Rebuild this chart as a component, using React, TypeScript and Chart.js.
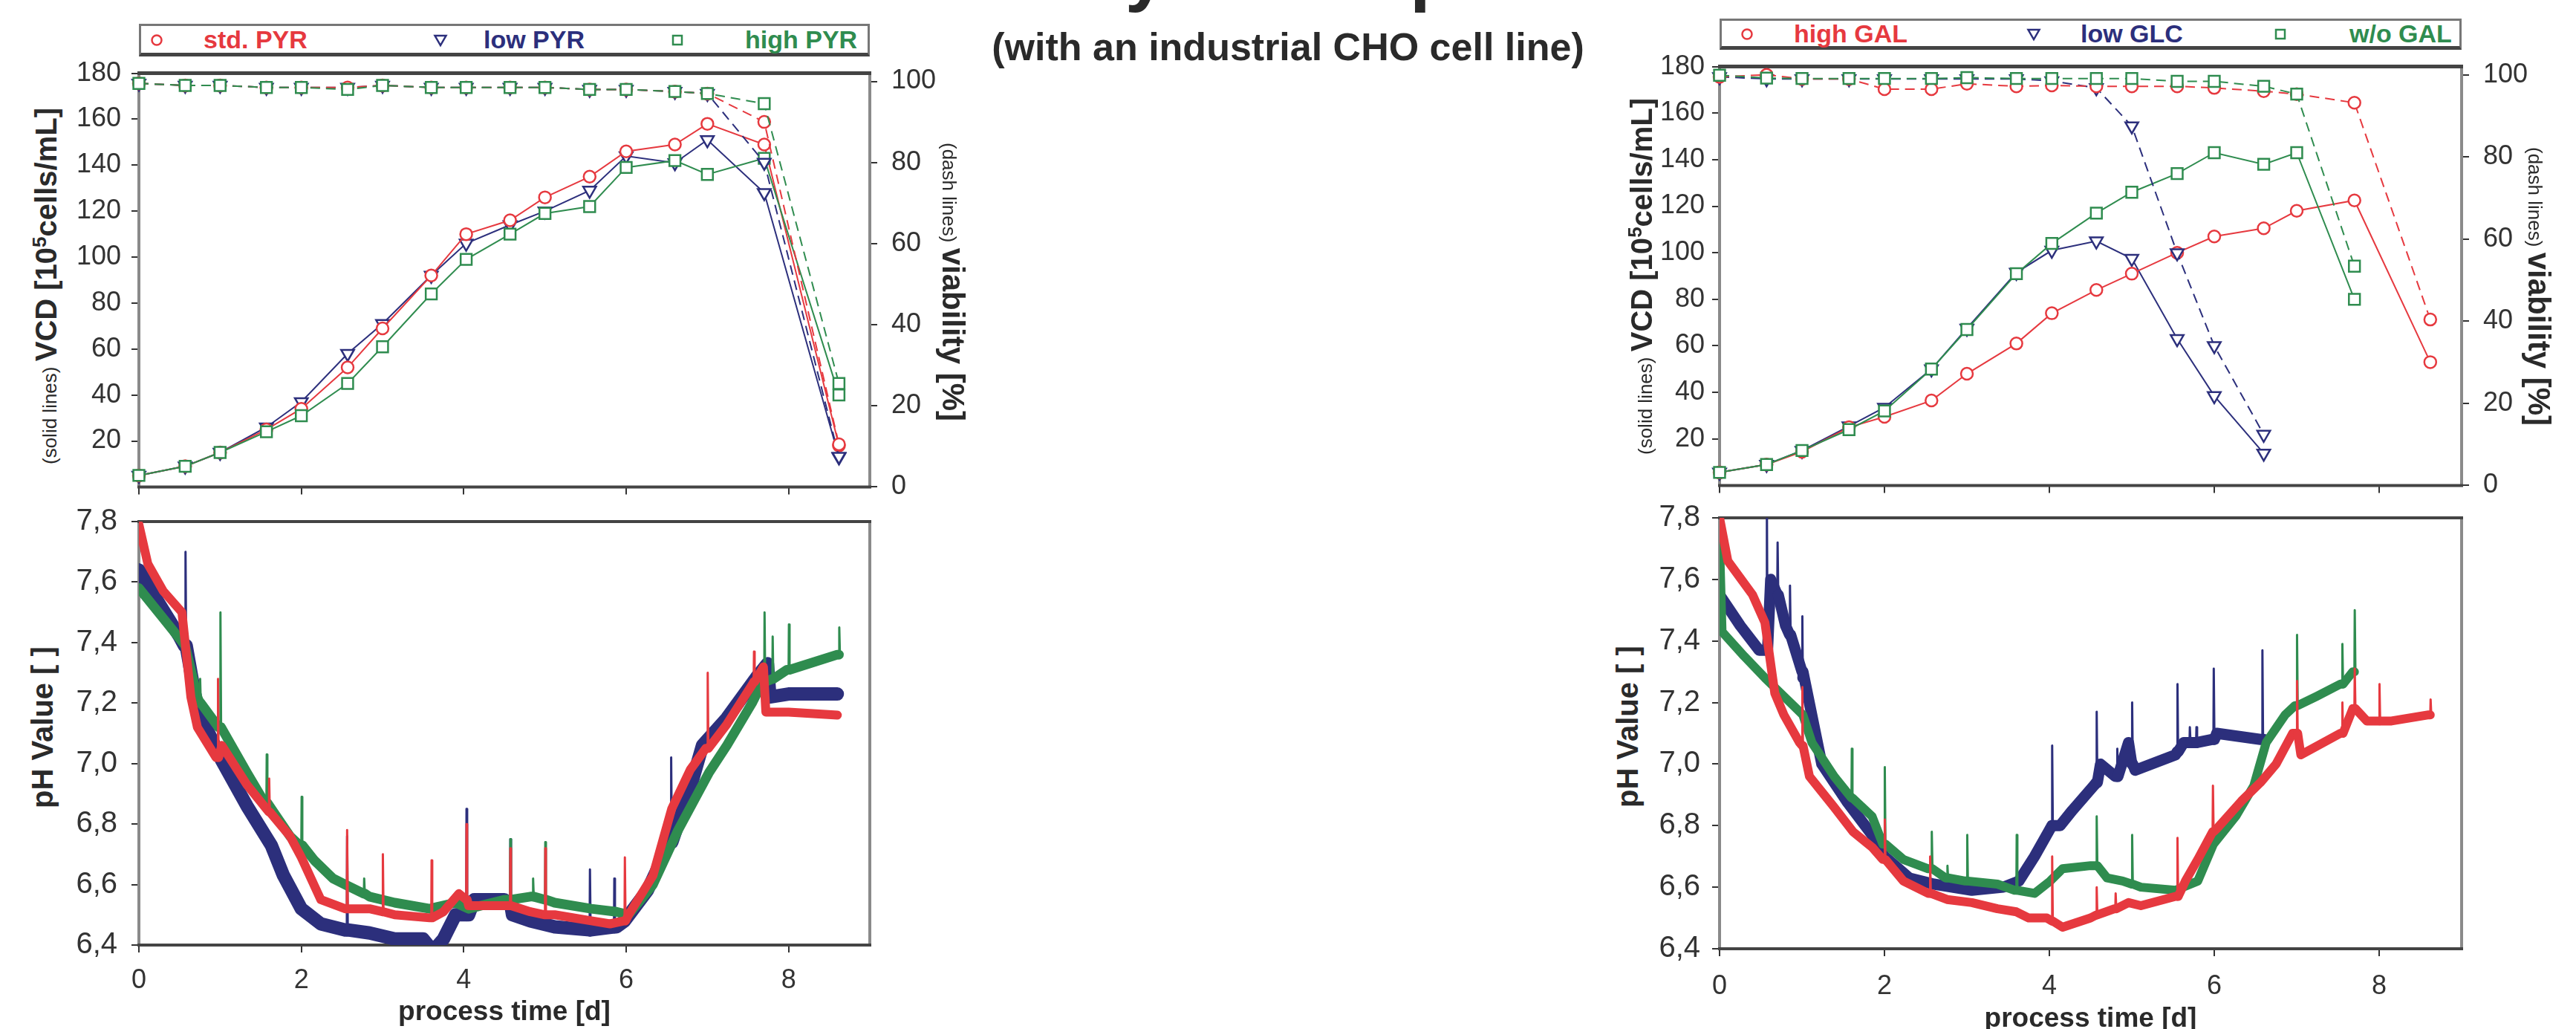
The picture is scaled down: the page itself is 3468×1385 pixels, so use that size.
import React, { useEffect, useRef } from 'react';
import { Chart, registerables } from 'chart.js';

Chart.register(...registerables);

const SANS = "'Liberation Sans', Arial, Helvetica, sans-serif";
const INK = '#2a2a2a';
const RED = '#e6393f';
const BLUE = '#2c2f7c';
const GREEN = '#2f8c4f';

// ---------- texts ----------
const TITLE = 'Sensitivity of the pH control';
const SUBTITLE = '(with an industrial CHO cell line)';
const LEGEND_PYR = ['std. PYR', 'low PYR', 'high PYR'];
const LEGEND_GAL = ['high GAL', 'low GLC', 'w/o GAL'];

// ---------- ticks ----------
const X_TICKS = [0, 2, 4, 6, 8];
const VCD_TICKS = [20, 40, 60, 80, 100, 120, 140, 160, 180];
const VIA_TICKS = [0, 20, 40, 60, 80, 100];
const PH_TICKS = [6.4, 6.6, 6.8, 7.0, 7.2, 7.4, 7.6, 7.8];

// ---------- sampling days ----------
const DAYS = [0, 0.57, 1.0, 1.57, 2.0, 2.57, 3.0, 3.6, 4.03, 4.57, 5.0, 5.55, 6.0, 6.6, 7.0, 7.7, 8.62];

// ---------- left: pyruvate runs ----------
const VCD_STD_PYR = [5, 9, 15, 25, 34, 52, 69, 92, 110, 116, 126, 135, 146, 149, 158, 149, 18];
const VCD_LOW_PYR = [5, 9, 15, 26, 37, 58, 71, 92, 106, 114, 120, 129, 144, 141, 151, 128, 13];
const VCD_HIGH_PYR = [5, 9, 15, 24, 31, 45, 61, 84, 99, 110, 119, 122, 139, 142, 136, 143, 40];
const VIA_STD_PYR = [99.5, 99, 99, 98.5, 98.5, 98.5, 99, 98.5, 98.5, 98.5, 98.5, 98, 98, 97.5, 97, 90, 10.5];
const VIA_LOW_PYR = [99.5, 99, 99, 98.5, 98.5, 98.5, 99, 98.5, 98.5, 98.5, 98.5, 98, 98, 97.5, 97, 80, 7.5];
const VIA_HIGH_PYR = [99.5, 99, 99, 98.5, 98.5, 98, 99, 98.5, 98.5, 98.5, 98.5, 98, 98, 97.5, 97, 94.5, 25.5];

// ---------- right: galactose / glucose runs ----------
const VCD_HIGH_GAL = [5.6, 9, 14.5, 25, 29.5, 36.5, 48, 61, 74, 84, 91, 100, 107, 110.5, 118, 122.5, 53];
const VCD_LOW_GLC = [5.6, 9, 15, 25.5, 33.5, 50, 67.5, 91.5, 101, 105, 97.5, 63, 38.5, 13.8];
const VCD_WO_GAL = [5.6, 9, 15, 24, 32, 50, 67, 91, 104, 117, 126, 134, 143, 138, 143, 80];
const VIA_HIGH_GAL = [99.5, 100, 99, 99, 96.5, 96.5, 97.8, 97.2, 97.4, 97.2, 97.2, 97.2, 96.8, 96, 95.3, 93.2, 40.4];
const VIA_LOW_GLC = [99.5, 99, 99, 99, 99, 99, 99, 99, 98.5, 96.8, 87.5, 56.6, 34, 12.4];
const VIA_WO_GAL = [99.9, 99.2, 99.1, 99.1, 99.1, 99.1, 99.3, 99.1, 99.1, 99.1, 99.1, 98.4, 98.4, 97.2, 95.3, 53.4];

// ---------- pH traces: [day, pH] and spikes [day, base pH, peak pH] ----------
const PH_STD_PYR = [
  [0, 7.79], [0.11, 7.66], [0.3, 7.57], [0.53, 7.5], [0.64, 7.22], [0.72, 7.12], [0.95, 7.02], [1.02, 7.06],
  [1.33, 6.93], [1.57, 6.85], [1.86, 6.76], [2.0, 6.69], [2.24, 6.55], [2.54, 6.52], [2.84, 6.52], [3.15, 6.5],
  [3.58, 6.49], [3.75, 6.51], [3.94, 6.57], [4.06, 6.53], [4.5, 6.53], [4.82, 6.51], [5.12, 6.5], [5.57, 6.48],
  [5.8, 6.47], [6.03, 6.5], [6.33, 6.63], [6.56, 6.85], [6.79, 6.98], [6.98, 7.05], [7.24, 7.13], [7.55, 7.26],
  [7.69, 7.32], [7.72, 7.17], [8.0, 7.17], [8.6, 7.16],
];
const SPK_STD_PYR = [
  [0.97, 7.02, 7.28], [1.6, 6.84, 6.95], [2.56, 6.52, 6.78], [3.0, 6.51, 6.7], [3.6, 6.49, 6.68],
  [4.03, 6.55, 6.8], [4.57, 6.53, 6.72], [5.0, 6.5, 6.72], [5.98, 6.48, 6.69], [7.0, 7.05, 7.3], [7.57, 7.27, 7.37],
];
const PH_LOW_PYR = [
  [0, 7.64], [0.2, 7.55], [0.5, 7.42], [0.56, 7.39], [0.72, 7.18], [1.02, 7.01], [1.33, 6.86], [1.63, 6.73],
  [1.78, 6.63], [2.0, 6.52], [2.24, 6.47], [2.54, 6.45], [2.84, 6.44], [3.15, 6.42], [3.5, 6.42], [3.62, 6.38],
  [3.75, 6.42], [3.9, 6.5], [4.06, 6.5], [4.13, 6.55], [4.5, 6.55], [4.6, 6.5], [4.82, 6.48], [5.12, 6.46],
  [5.57, 6.45], [5.88, 6.46], [5.98, 6.48], [6.26, 6.58], [6.54, 6.74], [6.79, 6.92], [6.94, 7.06], [7.24, 7.15],
  [7.62, 7.29], [7.74, 7.33], [7.77, 7.22], [8.0, 7.23], [8.6, 7.23],
];
const SPK_LOW_PYR = [
  [0.57, 7.39, 7.7], [2.56, 6.45, 6.76], [4.03, 6.5, 6.85], [4.57, 6.53, 6.75], [5.55, 6.45, 6.65],
  [5.85, 6.46, 6.62], [6.55, 6.74, 7.02],
];
const PH_HIGH_PYR = [
  [0, 7.58], [0.3, 7.48], [0.57, 7.39], [0.72, 7.22], [0.98, 7.12], [1.33, 6.97], [1.55, 6.87], [1.86, 6.76],
  [1.98, 6.73], [2.16, 6.68], [2.39, 6.62], [2.54, 6.6], [2.84, 6.56], [3.15, 6.54], [3.58, 6.52], [3.9, 6.54],
  [4.06, 6.52], [4.5, 6.55], [4.82, 6.56], [5.12, 6.54], [5.57, 6.52], [5.88, 6.51], [6.03, 6.5], [6.33, 6.6],
  [6.64, 6.78], [6.86, 6.89], [7.02, 6.97], [7.24, 7.06], [7.55, 7.2], [7.68, 7.27], [7.98, 7.31], [8.6, 7.36],
];
const SPK_HIGH_PYR = [
  [0.75, 7.2, 7.28], [1.0, 7.12, 7.5], [1.57, 6.87, 7.03], [2.0, 6.73, 6.89], [2.77, 6.57, 6.62],
  [4.57, 6.55, 6.75], [4.85, 6.56, 6.62], [5.0, 6.55, 6.74], [7.7, 7.27, 7.5], [7.8, 7.28, 7.42],
  [8.0, 7.31, 7.46], [8.62, 7.36, 7.45],
];

const PH_HIGH_GAL = [
  [0, 7.8], [0.1, 7.66], [0.4, 7.55], [0.55, 7.46], [0.67, 7.23], [0.78, 7.16], [0.97, 7.07], [1.09, 6.96],
  [1.39, 6.86], [1.62, 6.78], [1.85, 6.73], [1.98, 6.69], [2.23, 6.62], [2.53, 6.58], [2.76, 6.56], [3.06, 6.55],
  [3.37, 6.53], [3.6, 6.52], [3.75, 6.5], [3.97, 6.5], [4.16, 6.47], [4.5, 6.5], [4.79, 6.53], [4.96, 6.55],
  [5.11, 6.54], [5.53, 6.57], [5.65, 6.62], [5.8, 6.69], [6.03, 6.79], [6.33, 6.88], [6.56, 6.94], [6.75, 7.0],
  [6.95, 7.1], [7.05, 7.03], [7.53, 7.1], [7.68, 7.18], [7.85, 7.14], [8.15, 7.14], [8.6, 7.16],
];
const SPK_HIGH_GAL = [
  [1.0, 7.06, 7.25], [2.0, 6.69, 6.82], [2.55, 6.58, 6.7], [4.03, 6.49, 6.7], [4.57, 6.51, 6.6],
  [4.8, 6.53, 6.58], [5.55, 6.57, 6.76], [5.98, 6.78, 6.93], [7.0, 7.1, 7.27], [7.55, 7.1, 7.2],
  [7.7, 7.18, 7.31], [8.0, 7.14, 7.26], [8.62, 7.16, 7.21],
];
const PH_LOW_GLC = [
  [0, 7.55], [0.25, 7.45], [0.48, 7.37], [0.62, 7.6], [0.8, 7.45], [1.01, 7.28], [1.24, 7.0], [1.54, 6.88],
  [1.85, 6.77], [2.0, 6.7], [2.3, 6.63], [2.6, 6.61], [3.06, 6.59], [3.44, 6.6], [3.63, 6.62], [3.82, 6.7],
  [4.01, 6.79], [4.13, 6.8], [4.28, 6.85], [4.54, 6.93], [4.62, 7.0], [4.8, 6.96], [4.96, 7.07], [5.04, 6.98],
  [5.53, 7.03], [5.63, 7.07], [5.97, 7.08], [6.03, 7.1], [6.56, 7.08], [6.6, 7.08],
];
const SPK_LOW_GLC = [
  [0.57, 7.37, 7.85], [0.7, 7.55, 7.72], [0.85, 7.42, 7.58], [1.0, 7.3, 7.48], [4.03, 6.8, 7.06],
  [4.57, 6.94, 7.17], [4.82, 6.96, 7.05], [5.0, 7.0, 7.2], [5.55, 7.04, 7.26], [5.7, 7.07, 7.12],
  [5.78, 7.07, 7.12], [5.99, 7.08, 7.31], [6.58, 7.08, 7.37],
];
const PH_WO_GAL = [
  [0, 7.72], [0.03, 7.43], [0.3, 7.35], [0.55, 7.28], [0.78, 7.22], [1.01, 7.16], [1.12, 7.07], [1.39, 6.96],
  [1.6, 6.89], [1.85, 6.83], [1.98, 6.74], [2.23, 6.69], [2.53, 6.66], [2.74, 6.63], [2.98, 6.62], [3.37, 6.61],
  [3.58, 6.59], [3.82, 6.58], [4.01, 6.62], [4.16, 6.66], [4.5, 6.67], [4.7, 6.63], [4.89, 6.62], [5.11, 6.6],
  [5.53, 6.59], [5.8, 6.62], [5.99, 6.74], [6.26, 6.83], [6.48, 6.93], [6.63, 7.07], [6.86, 7.16], [6.98, 7.19],
  [7.24, 7.22], [7.53, 7.26], [7.68, 7.3],
];
const SPK_WO_GAL = [
  [1.6, 6.89, 7.05], [2.0, 6.74, 6.99], [2.57, 6.66, 6.78], [2.76, 6.63, 6.67], [3.0, 6.62, 6.77],
  [3.6, 6.59, 6.77], [4.57, 6.67, 6.83], [5.0, 6.61, 6.77], [7.0, 7.19, 7.42], [7.55, 7.26, 7.39],
  [7.7, 7.3, 7.5],
];

// ---------- helpers ----------
type Geo = { l: number; t: number; r: number; b: number };

function pts(days: number[], vals: number[]) {
  return vals.map((y, i) => ({ x: days[i], y }));
}

function phPoints(base: number[][], spikes: number[][]) {
  const out: { x: number; y: number; s: number }[] = base.map(([x, y]) => ({ x, y, s: 0 }));
  for (const [x, b, p] of spikes) {
    out.push({ x, y: b, s: 0 }, { x: x + 0.004, y: p, s: 1 }, { x: x + 0.012, y: b, s: 0 });
  }
  out.sort((a, c) => a.x - c.x);
  return out;
}

const framePlugin = {
  id: 'frame',
  beforeDatasetsDraw(chart: any, _a: any, o: any) {
    const { ctx, chartArea: a } = chart;
    const line = (x1: number, y1: number, x2: number, y2: number, c: string, w: number) => {
      ctx.beginPath();
      ctx.strokeStyle = c;
      ctx.lineWidth = w;
      ctx.moveTo(x1, y1);
      ctx.lineTo(x2, y2);
      ctx.stroke();
    };
    ctx.save();
    line(a.left, a.top, a.left, a.bottom, o.side, 4);
    line(a.right, a.top, a.right, a.bottom, o.side, 4);
    line(a.left - 2, a.top, a.right + 2, a.top, o.tb, o.topW);
    line(a.left - 2, a.bottom, a.right + 2, a.bottom, o.tb, 4);
    ctx.restore();
  },
};

function tickGrid() {
  return { display: true, drawOnChartArea: false, drawTicks: true, tickLength: 10, color: '#333', lineWidth: 2 };
}

type Shape = 'circle' | 'triangle' | 'rect';
function marker(color: string, shape: Shape) {
  return {
    pointStyle: shape,
    pointRadius: shape === 'circle' ? 8 : shape === 'triangle' ? 10 : 10.5,
    pointRotation: shape === 'triangle' ? 180 : 0,
    pointBorderWidth: 2.5,
    pointBorderColor: color,
    pointBackgroundColor: '#ffffff',
  };
}

type TopSeries = { days: number[]; vcd: number[]; via: number[]; color: string; shape: Shape };

function topConfig(series: TopSeries[], yPad: number, yrPad: number) {
  const datasets: any[] = [];
  for (const s of series) {
    datasets.push({
      data: pts(s.days, s.via), yAxisID: 'ya', borderColor: s.color, borderWidth: 2,
      borderDash: [13, 8], tension: 0, clip: false, ...marker(s.color, s.shape),
    });
  }
  for (const s of series) {
    datasets.push({
      data: pts(s.days, s.vcd), yAxisID: 'yv', borderColor: s.color, borderWidth: 2,
      tension: 0, clip: false, ...marker(s.color, s.shape),
    });
  }
  return {
    type: 'line',
    data: { datasets },
    options: {
      animation: false, responsive: false, devicePixelRatio: 1, events: [],
      layout: { padding: { top: 30, bottom: 10, left: 0, right: 0 } },
      plugins: { legend: { display: false }, tooltip: { enabled: false }, frame: { side: '#8a8a8a', tb: '#444', topW: 5 } },
      scales: {
        x: {
          type: 'linear', min: 0, max: 9,
          afterBuildTicks: (sc: any) => { sc.ticks = X_TICKS.map((v) => ({ value: v })); },
          ticks: { display: false }, grid: tickGrid(), border: { display: false },
          afterFit: (sc: any) => { sc.height = 16; },
        },
        yv: {
          type: 'linear', position: 'left', min: 0, max: 180,
          afterBuildTicks: (sc: any) => { sc.ticks = VCD_TICKS.map((v) => ({ value: v })); },
          ticks: { font: { family: SANS, size: 36 }, color: '#333', padding: yPad },
          grid: tickGrid(), border: { display: false },
          afterFit: (sc: any) => { sc.width = 100; },
        },
        ya: {
          type: 'linear', position: 'right', min: 0, max: 102,
          afterBuildTicks: (sc: any) => { sc.ticks = VIA_TICKS.map((v) => ({ value: v })); },
          ticks: { font: { family: SANS, size: 36 }, color: '#333', padding: yrPad },
          grid: tickGrid(), border: { display: false },
          afterFit: (sc: any) => { sc.width = 110; },
        },
      },
    },
    plugins: [framePlugin],
  };
}

type PhSeries = { base: number[][]; spikes: number[][]; color: string; band: number };

function phConfig(series: PhSeries[], xH: number, xPad: number, yPad: number) {
  const datasets = series.map((s) => {
    const data = phPoints(s.base, s.spikes);
    return {
      data, borderColor: s.color, borderWidth: s.band, pointRadius: 0, tension: 0,
      borderJoinStyle: 'round', borderCapStyle: 'round',
      segment: {
        borderWidth: (c: any) => (data[c.p0DataIndex].s || data[c.p1DataIndex].s ? 3 : s.band),
      },
    };
  });
  return {
    type: 'line',
    data: { datasets },
    options: {
      animation: false, responsive: false, devicePixelRatio: 1, events: [],
      layout: { padding: { top: 30, bottom: 0, left: 0, right: 30 } },
      plugins: { legend: { display: false }, tooltip: { enabled: false }, frame: { side: '#8a8a8a', tb: '#444', topW: 4 } },
      scales: {
        x: {
          type: 'linear', min: 0, max: 9,
          afterBuildTicks: (sc: any) => { sc.ticks = X_TICKS.map((v) => ({ value: v })); },
          ticks: { font: { family: SANS, size: 36 }, color: '#333', padding: xPad, maxRotation: 0 },
          grid: tickGrid(), border: { display: false },
          title: { display: true, text: 'process time [d]', font: { family: SANS, size: 37, weight: 'bold' }, color: INK, padding: { top: 0, bottom: 4 } },
          afterFit: (sc: any) => { sc.height = xH; },
        },
        y: {
          type: 'linear', position: 'left', min: 6.4, max: 7.8,
          afterBuildTicks: (sc: any) => { sc.ticks = PH_TICKS.map((v) => ({ value: v })); },
          ticks: {
            font: { family: SANS, size: 40 }, color: '#333', padding: yPad,
            callback: (v: any) => Number(v).toFixed(1).replace('.', ','),
          },
          grid: tickGrid(), border: { display: false },
          afterFit: (sc: any) => { sc.width = 100; },
        },
      },
    },
    plugins: [framePlugin],
  };
}

function ChartCanvas({ left, top, width, height, make }: { left: number; top: number; width: number; height: number; make: () => any }) {
  const ref = useRef<HTMLCanvasElement>(null);
  useEffect(() => {
    const chart = new Chart(ref.current as HTMLCanvasElement, make());
    return () => chart.destroy();
  }, []);
  return (
    <canvas ref={ref} width={width} height={height}
      style={{ position: 'absolute', left, top, width, height }} />
  );
}

function VLabel({ bx, y, dir, small, children }: { bx: number; y: number; dir: number; small?: string; children: React.ReactNode }) {
  const B = 38;
  const pos = dir < 0
    ? { left: bx - B, top: y, transform: 'rotate(-90deg)' }
    : { left: bx + B, top: y, transform: 'rotate(90deg)' };
  return (
    <div style={{
      position: 'absolute', ...pos, transformOrigin: '0 0', whiteSpace: 'nowrap',
      lineHeight: '48px', height: 48, fontFamily: SANS, fontSize: 40, fontWeight: 'bold', color: INK,
    }}>
      {small ? <span style={{ fontSize: 26, fontWeight: 'normal' }}>{small} </span> : null}
      {children}
    </div>
  );
}

function Marker({ shape, color, cx, cy }: { shape: Shape; color: string; cx: number; cy: number }) {
  return (
    <svg width={24} height={24} style={{ position: 'absolute', left: cx - 12, top: cy - 12 }}>
      {shape === 'circle' && <circle cx={12} cy={12} r={6.5} fill="none" stroke={color} strokeWidth={2.5} />}
      {shape === 'triangle' && <polygon points="4.5,6 19.5,6 12,19" fill="none" stroke={color} strokeWidth={2.5} />}
      {shape === 'rect' && <rect x={6} y={6} width={12} height={12} fill="none" stroke={color} strokeWidth={2.5} />}
    </svg>
  );
}

function LegendBox({ l, t, w, h, labels, mx, tx }: { l: number; t: number; w: number; h: number; labels: string[]; mx: number[]; tx: number[] }) {
  const shapes: Shape[] = ['circle', 'triangle', 'rect'];
  const colors = [RED, BLUE, GREEN];
  const inner = h - 8;
  return (
    <div style={{
      position: 'absolute', left: l, top: t, width: w, height: h, boxSizing: 'border-box',
      borderTop: '3px solid #777', borderLeft: '3px solid #777', borderRight: '3px solid #777',
      borderBottom: '5px solid #444', background: '#fff',
    }}>
      {labels.map((lab, i) => (
        <React.Fragment key={lab}>
          <Marker shape={shapes[i]} color={colors[i]} cx={mx[i] - l - 3} cy={inner / 2 + 1} />
          <span style={{
            position: 'absolute', left: tx[i] - l - 3, top: 0, lineHeight: `${inner}px`,
            fontFamily: SANS, fontSize: 34, fontWeight: 'bold', color: colors[i], whiteSpace: 'nowrap',
          }}>{lab}</span>
        </React.Fragment>
      ))}
    </div>
  );
}

const TL: Geo = { l: 187, t: 88, r: 1171, b: 670 };
const TR: Geo = { l: 2315, t: 79, r: 3314, b: 668 };
const BL: Geo = { l: 187, t: 689, r: 1171, b: 1272 };
const BR: Geo = { l: 2315, t: 687, r: 3314, b: 1277 };

export default function App() {
  const vcdSup = (
    <>VCD [10<span style={{ fontSize: 26, position: 'relative', top: -14 }}>5</span>cells/mL]</>
  );
  return (
    <div style={{ position: 'absolute', left: 0, top: 0, width: 3468, height: 1385, overflow: 'hidden', background: '#fff' }}>
      <div style={{
        position: 'absolute', left: 0, top: -89, width: 3468, textAlign: 'center', fontFamily: SANS,
        fontSize: 100, lineHeight: '100px', fontWeight: 'bold', color: INK, whiteSpace: 'nowrap',
      }}>{TITLE}</div>
      <div style={{
        position: 'absolute', left: 0, top: 37, width: 3468, textAlign: 'center', fontFamily: SANS,
        fontSize: 52, lineHeight: '52px', fontWeight: 'bold', color: INK, whiteSpace: 'nowrap',
      }}>{SUBTITLE}</div>

      <ChartCanvas left={TL.l - 100} top={TL.t - 30} width={100 + (TL.r - TL.l) + 110} height={30 + (TL.b - TL.t) + 26}
        make={() => topConfig([
          { days: DAYS, vcd: VCD_HIGH_PYR, via: VIA_HIGH_PYR, color: GREEN, shape: 'rect' },
          { days: DAYS, vcd: VCD_STD_PYR, via: VIA_STD_PYR, color: RED, shape: 'circle' },
          { days: DAYS, vcd: VCD_LOW_PYR, via: VIA_LOW_PYR, color: BLUE, shape: 'triangle' },
        ], 14, 19)} />
      <ChartCanvas left={TR.l - 100} top={TR.t - 30} width={100 + (TR.r - TR.l) + 110} height={30 + (TR.b - TR.t) + 26}
        make={() => topConfig([
          { days: DAYS, vcd: VCD_WO_GAL, via: VIA_WO_GAL, color: GREEN, shape: 'rect' },
          { days: DAYS, vcd: VCD_HIGH_GAL, via: VIA_HIGH_GAL, color: RED, shape: 'circle' },
          { days: DAYS, vcd: VCD_LOW_GLC, via: VIA_LOW_GLC, color: BLUE, shape: 'triangle' },
        ], 10, 19)} />
      <ChartCanvas left={BL.l - 100} top={BL.t - 30} width={100 + (BL.r - BL.l) + 30} height={30 + (BL.b - BL.t) + 117}
        make={() => phConfig([
          { base: PH_STD_PYR, spikes: SPK_STD_PYR, color: RED, band: 12 },
          { base: PH_HIGH_PYR, spikes: SPK_HIGH_PYR, color: GREEN, band: 13 },
          { base: PH_LOW_PYR, spikes: SPK_LOW_PYR, color: BLUE, band: 18 },
        ], 117, 16, 19)} />
      <ChartCanvas left={BR.l - 100} top={BR.t - 30} width={100 + (BR.r - BR.l) + 30} height={30 + (BR.b - BR.t) + 121}
        make={() => phConfig([
          { base: PH_HIGH_GAL, spikes: SPK_HIGH_GAL, color: RED, band: 12 },
          { base: PH_WO_GAL, spikes: SPK_WO_GAL, color: GREEN, band: 12 },
          { base: PH_LOW_GLC, spikes: SPK_LOW_GLC, color: BLUE, band: 15 },
        ], 121, 19, 16)} />

      <LegendBox l={187} t={32} w={984} h={44} labels={LEGEND_PYR} mx={[211, 593, 912]} tx={[274, 651, 1003]} />
      <LegendBox l={2315} t={25} w={999} h={42} labels={LEGEND_GAL} mx={[2352, 2738, 3070]} tx={[2415, 2801, 3163]} />

      <VLabel bx={76} y={625} dir={-1} small="(solid lines)">{vcdSup}</VLabel>
      <VLabel bx={1269} y={192} dir={1} small="(dash lines)"><span style={{ fontSize: 42 }}>viability [%]</span></VLabel>
      <VLabel bx={2224} y={612} dir={-1} small="(solid lines)">{vcdSup}</VLabel>
      <VLabel bx={3404} y={198} dir={1} small="(dash lines)"><span style={{ fontSize: 42 }}>viability [%]</span></VLabel>
      <VLabel bx={71} y={1088} dir={-1}>pH Value [ ]</VLabel>
      <VLabel bx={2205} y={1087} dir={-1}>pH Value [ ]</VLabel>
    </div>
  );
}
